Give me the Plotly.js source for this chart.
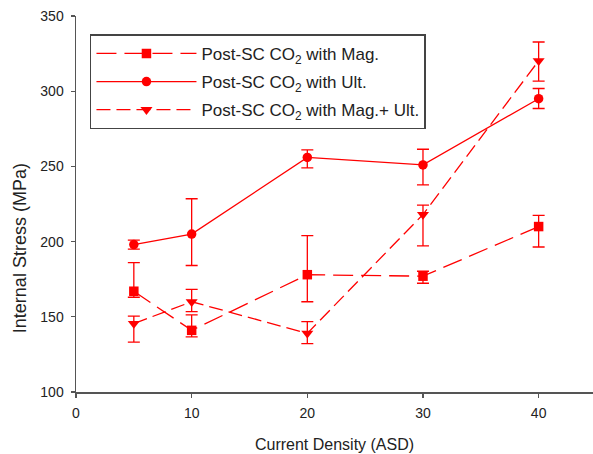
<!DOCTYPE html>
<html>
<head>
<meta charset="utf-8">
<script src="https://cdn.plot.ly/plotly-3.0.1.min.js"></script>
<style>html,body{margin:0;padding:0;background:#fff;}#chart{width:593px;height:454px;}</style>
</head>
<body>
<div id="chart"></div>
<script>
// Data
const currentDensity = [5, 10, 20, 30, 40];

const magStress = [167, 141, 178, 177, 210];
const magErrPlus = [19, 10.3, 26, 3.3, 7.5];
const magErrMinus = [4, 4.3, 18, 4.7, 13.6];

const ultStress = [198, 205, 256, 251, 295];
const ultErrPlus = [3, 23.5, 5, 10.4, 6.8];
const ultErrMinus = [3, 20.9, 7, 13.3, 6.5];

const magUltStress = [145.5, 160, 139, 218, 320.2];
const magUltErrPlus = [5, 8.2, 7.8, 6.2, 12.5];
const magUltErrMinus = [12.4, 6.5, 6.9, 20.9, 13.5];

const seriesNames = [
  'Post-SC CO<sub>2</sub> with Mag.',
  'Post-SC CO<sub>2</sub> with Ult.',
  'Post-SC CO<sub>2</sub> with Mag.+ Ult.'
];
const xTitle = 'Current Density (ASD)';
const yTitle = 'Internal Stress (MPa)';

const red = '#ff0000';
function errBar(plus, minus) {
  return {type: 'data', symmetric: false, array: plus, arrayminus: minus,
          color: red, thickness: 1.3, width: 6};
}

const traces = [
  {x: currentDensity, y: magStress, name: seriesNames[0], mode: 'lines+markers',
   legendgroup: 'a',
   line: {color: red, width: 1.3, dash: '20px,8px'},
   marker: {symbol: 'square', size: 9.5, color: red},
   error_y: errBar(magErrPlus, magErrMinus)},
  {x: currentDensity, y: ultStress, name: seriesNames[1], mode: 'lines+markers',
   legendgroup: 'b',
   line: {color: red, width: 1.3},
   marker: {symbol: 'circle', size: 9.5, color: red},
   error_y: errBar(ultErrPlus, ultErrMinus)},
  {x: currentDensity, y: magUltStress, name: seriesNames[2], mode: 'lines+markers',
   legendgroup: 'c',
   line: {color: red, width: 1.3, dash: '14px,6px'},
   marker: {symbol: 'triangle-down', size: 10.5, color: red},
   error_y: errBar(magUltErrPlus, magUltErrMinus)}
];

const axisCommon = {
  showgrid: false, zeroline: false, showline: true, mirror: false,
  linecolor: '#555', linewidth: 1.5,
  ticks: 'outside', ticklen: 4, tickwidth: 1.2, tickcolor: '#555',
  tickfont: {family: 'Liberation Sans, Arial, sans-serif', size: 14, color: '#222'}
};

const layout = {
  width: 593, height: 454,
  margin: {l: 76, r: 0, t: 16, b: 62},
  paper_bgcolor: '#fff', plot_bgcolor: '#fff',
  font: {family: 'Liberation Sans, Arial, sans-serif', color: '#222'},
  showlegend: true,
  xaxis: Object.assign({}, axisCommon, {
    range: [0, 44.7], tickmode: 'linear', tick0: 0, dtick: 10,
    ticklabelstandoff: 4,
    title: {text: xTitle, font: {size: 16, color: '#222'}, standoff: 18}
  }),
  yaxis: Object.assign({}, axisCommon, {
    range: [100, 350], tickmode: 'linear', tick0: 100, dtick: 50,
    ticklabelstandoff: 4
  }),
  annotations: [{
    text: yTitle, xref: 'paper', yref: 'paper',
    x: -0.108, y: 0.383, xanchor: 'center', yanchor: 'middle',
    textangle: -90, showarrow: false,
    font: {size: 18, color: '#222'}
  }],
  legend: {
    x: 0.027, y: 0.951, xanchor: 'left', yanchor: 'top',
    bordercolor: '#444', borderwidth: 1.5, bgcolor: '#fff',
    font: {size: 17, color: '#222'},
    traceorder: 'grouped', tracegroupgap: 3,
    itemwidth: 100
  }
};

Plotly.newPlot('chart', traces, layout, {displayModeBar: false, staticPlot: true});
</script>
</body>
</html>
